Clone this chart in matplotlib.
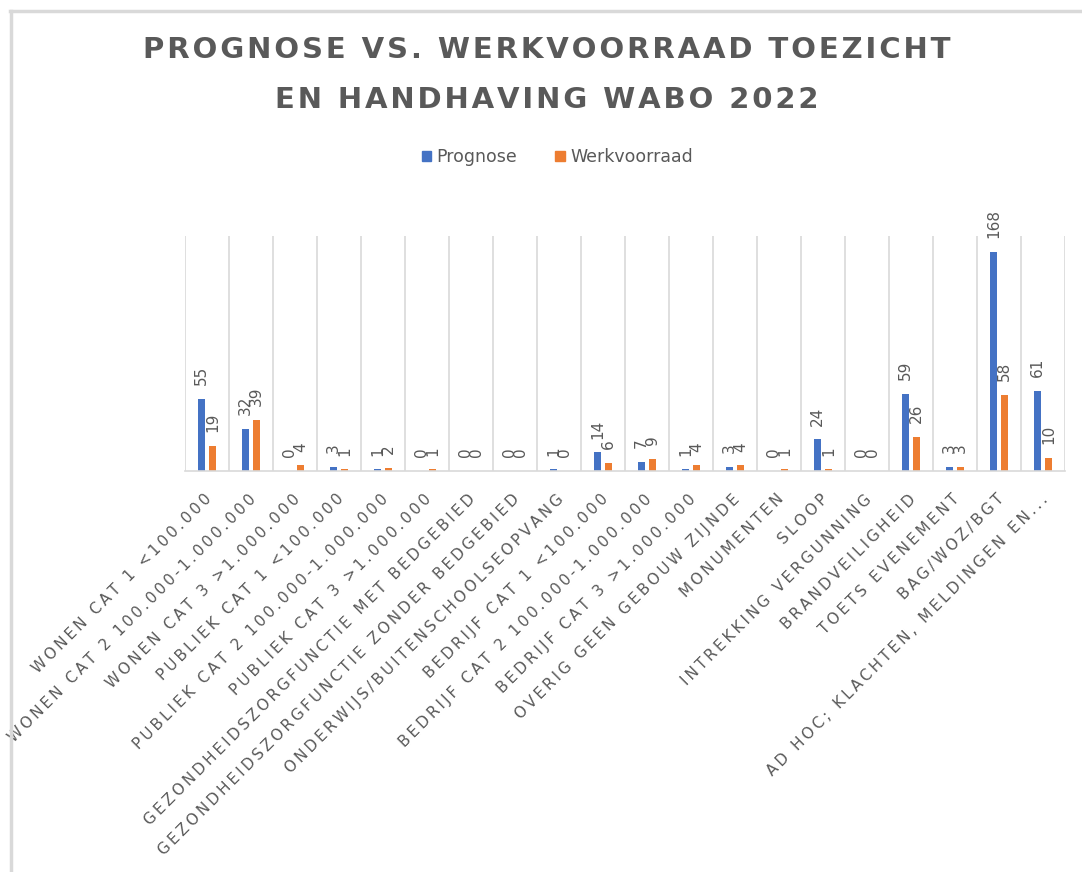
import numpy as np
import matplotlib
matplotlib.use("Agg")
from matplotlib import pyplot as plt
from matplotlib.patches import Rectangle
from matplotlib.lines import Line2D
from matplotlib.transforms import ScaledTranslation

categories = [
    "Wonen cat 1 <100.000",
    "Wonen cat 2 100.000-1.000.000",
    "Wonen cat 3 >1.000.000",
    "Publiek cat 1 <100.000",
    "Publiek cat 2 100.000-1.000.000",
    "Publiek cat 3 >1.000.000",
    "Gezondheidszorgfunctie met bedgebied",
    "Gezondheidszorgfunctie zonder bedgebied",
    "Onderwijs/buitenschoolseopvang",
    "Bedrijf cat 1 <100.000",
    "Bedrijf cat 2 100.000-1.000.000",
    "Bedrijf cat 3 >1.000.000",
    "Overig geen gebouw zijnde",
    "Monumenten",
    "Sloop",
    "Intrekking vergunning",
    "Brandveiligheid",
    "Toets evenement",
    "BAG/WOZ/BGT",
    "Ad hoc; klachten, meldingen en...",
]
prognose = [55, 32, 0, 3, 1, 0, 0, 0, 1, 14, 7, 1, 3, 0, 24, 0, 59, 3, 168, 61]
werkvoorraad = [19, 39, 4, 1, 2, 1, 0, 0, 0, 6, 9, 4, 4, 1, 1, 0, 26, 3, 58, 10]

blue = "#4472C4"
orange = "#ED7D31"
grey = "#595959"

def spaced(s, sep="\u200a"):
    return sep.join(s)

fig = plt.figure(figsize=(10.82, 8.72), dpi=100)

# chart border (only top and left visible in the crop)
fig.add_artist(Line2D([10 / 1082, 1], [1 - 11 / 872, 1 - 11 / 872], color="#d9d9d9", lw=2.5))
fig.add_artist(Line2D([11 / 1082, 11 / 1082], [0, 1 - 11 / 872], color="#d9d9d9", lw=2.5))

ax = fig.add_axes([185 / 1082, 1 - 470.7 / 872, 880 / 1082, (470.7 - 236) / 872])

x = np.arange(len(categories))
w = 0.15
b1 = ax.bar(x - 0.125, prognose, w, color=blue, label="Prognose")
b2 = ax.bar(x + 0.125, werkvoorraad, w, color=orange, label="Werkvoorraad")

for bars, vals in ((b1, prognose), (b2, werkvoorraad)):
    for rect, v in zip(bars, vals):
        ax.annotate(str(v), (rect.get_x() + rect.get_width() / 2, rect.get_height()),
                    xytext=(0, 10), textcoords="offset points", rotation=90,
                    ha="center", va="bottom", fontsize=11, color=grey)

ax.set_xlim(-0.5, len(categories) - 0.5)
ax.set_ylim(0, 180)
ax.set_yticks([])
ax.set_xticks(np.arange(-0.5, len(categories)), minor=True)
ax.grid(which="minor", axis="x", color="#d9d9d9", lw=1.2)
ax.tick_params(axis="x", which="both", length=0)
ax.set_xticks(x)
ax.set_xticklabels([spaced(c.upper(), "\u2009") for c in categories], rotation=45, ha="right",
                   rotation_mode="anchor", fontsize=11, color=grey)
ax.tick_params(axis="x", pad=15)
shift = ScaledTranslation(-0.03, 0, fig.dpi_scale_trans)
for lab in ax.get_xticklabels():
    lab.set_transform(lab.get_transform() + shift)
for s in ("top", "left", "right"):
    ax.spines[s].set_visible(False)
ax.spines["bottom"].set_color("#d9d9d9")
ax.spines["bottom"].set_linewidth(1.2)

fig.text(0.505, 1 - 50 / 872, spaced("PROGNOSE VS. WERKVOORRAAD TOEZICHT"),
         ha="center", va="center", fontsize=21, fontweight="bold", color=grey)
fig.text(0.505, 1 - 100 / 872, spaced("EN HANDHAVING WABO 2022"),
         ha="center", va="center", fontsize=21, fontweight="bold", color=grey)

fig.legend(handles=[Rectangle((0, 0), 1, 1, color=blue), Rectangle((0, 0), 1, 1, color=orange)],
           labels=["Prognose", "Werkvoorraad"], loc="center", bbox_to_anchor=(0.515, 1 - 157 / 872),
           ncol=2, frameon=False, fontsize=12.5, labelcolor=grey, handlelength=0.55,
           handleheight=0.55, handletextpad=0.3, columnspacing=2.2)

fig.savefig("out.png", dpi=100)
